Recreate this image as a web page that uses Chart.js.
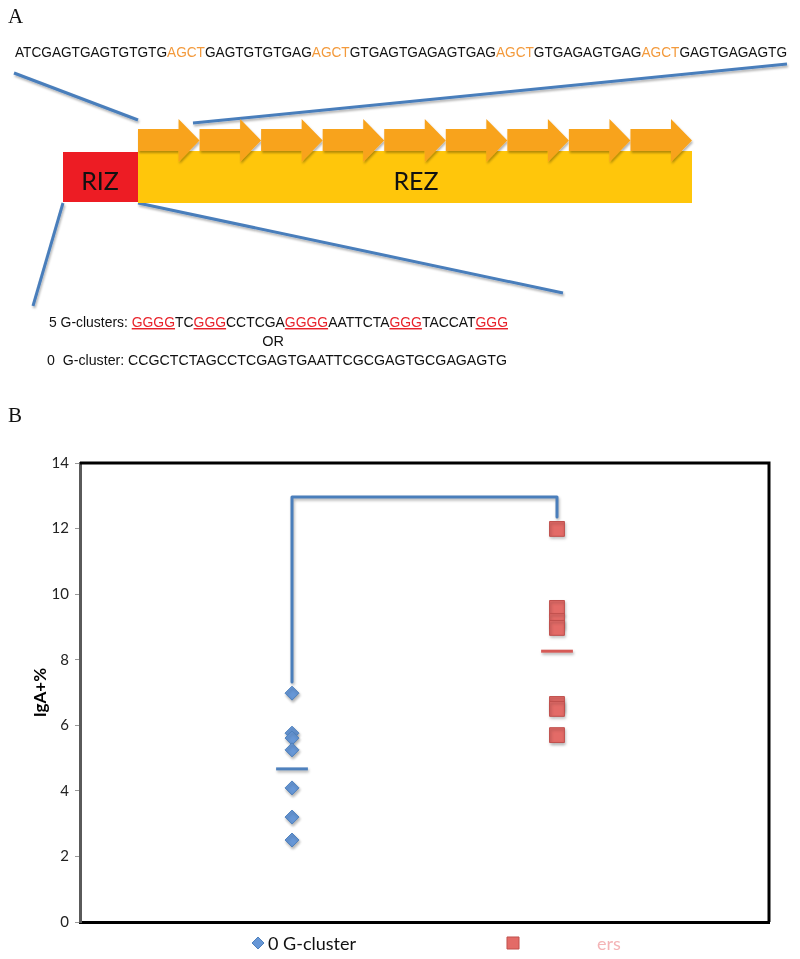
<!DOCTYPE html>
<html>
<head>
<meta charset="utf-8">
<script src="https://cdn.jsdelivr.net/npm/chart.js@4.4.1/dist/chart.umd.min.js"></script>
<style>
  html, body { margin: 0; padding: 0; background: #fff; }
  #contenedor { position: relative; width: 800px; height: 959px; }
  #graficoIgA { position: absolute; left: 0; top: 0; }
  #panelA { position: absolute; left: 0; top: 0; }
  .seq { font-family: "Liberation Sans", Arial, sans-serif; font-size: 14.5px; fill: #111; }
  .zona { font-family: Lato, "Open Sans", sans-serif; font-size: 25px; fill: #111; }
</style>
</head>
<body>
<div id="contenedor">
  <canvas id="graficoIgA" width="800" height="959"></canvas>

  <svg id="panelA" width="800" height="440" xmlns="http://www.w3.org/2000/svg">
    <defs>
      <filter id="sombra" x="-20%" y="-20%" width="140%" height="160%">
        <feDropShadow dx="1" dy="2" stdDeviation="1" flood-color="#000" flood-opacity="0.3"/>
      </filter>
    </defs>

    <text x="8" y="23" font-family="Liberation Serif, serif" font-size="21" fill="#111">A</text>

    <text class="seq" x="15" y="57" textLength="772" lengthAdjust="spacingAndGlyphs">ATCGAGTGAGTGTGTG<tspan fill="#f39a3c">AGCT</tspan>GAGTGTGTGAG<tspan fill="#f39a3c">AGCT</tspan>GTGAGTGAGAGTGAG<tspan fill="#f39a3c">AGCT</tspan>GTGAGAGTGAG<tspan fill="#f39a3c">AGCT</tspan>GAGTGAGAGTG</text>

    <!-- lineas azules de zoom -->
    <g stroke="#4a7ebb" stroke-width="3" filter="url(#sombra)">
      <line x1="14" y1="73" x2="138" y2="120"/>
      <line x1="193" y1="123" x2="787" y2="64"/>
      <line x1="138" y1="203" x2="563" y2="293"/>
      <line x1="63" y1="203" x2="33" y2="306"/>
    </g>

    <rect x="138" y="151" width="554" height="52" fill="#ffc60b"/>
    <rect x="63" y="152" width="75" height="50" fill="#ed1c24"/>
    <g id="flechas" fill="#f8a31f" filter="url(#sombra)"></g>

    <text class="zona" x="100" y="190" text-anchor="middle">RIZ</text>
    <text class="zona" x="416" y="190" text-anchor="middle">REZ</text>

    <text class="seq" x="49" y="327" textLength="459" lengthAdjust="spacingAndGlyphs">5 G-clusters: <tspan fill="#e8232b" text-decoration="underline">GGGG</tspan>TC<tspan fill="#e8232b" text-decoration="underline">GGG</tspan>CCTCGA<tspan fill="#e8232b" text-decoration="underline">GGGG</tspan>AATTCTA<tspan fill="#e8232b" text-decoration="underline">GGG</tspan>TACCAT<tspan fill="#e8232b" text-decoration="underline">GGG</tspan></text>
    <text class="seq" x="273" y="346" text-anchor="middle">OR</text>
    <text class="seq" x="47" y="365" textLength="460" lengthAdjust="spacingAndGlyphs">0&#160; G-cluster: CCGCTCTAGCCTCGAGTGAATTCGCGAGTGCGAGAGTG</text>

    <text x="8" y="422" font-family="Liberation Serif, serif" font-size="21" fill="#111">B</text>
  </svg>
</div>

<script>
// datos (IgA+ %)
const categoriasX = [1, 2];
const ceroCluster = [6.98, 5.76, 5.61, 5.25, 4.09, 3.20, 2.50];
const cincoClusters = [11.99, 9.58, 9.18, 8.97, 6.65, 6.50, 5.70];
const medias = [4.67, 8.26];
// corchete: base izquierda, altura, base derecha
const corcheteY = [7.32, 12.96, 12.35];
const rangoY = [0, 14];
const pasoY = 2;
const etiquetasLeyenda = ['0 G-cluster', 'ers'];

// flechas naranjas del REZ
const svgNS = 'http://www.w3.org/2000/svg';
const grupoFlechas = document.getElementById('flechas');
const numFlechas = 9;
const inicioFlechas = 138, finFlechas = 692;
const paso = (finFlechas - inicioFlechas) / numFlechas;
for (let i = 0; i < numFlechas; i++) {
  const a = inicioFlechas + i * paso;
  const b = a + paso - 21;
  const c = a + paso;
  const p = document.createElementNS(svgNS, 'polygon');
  p.setAttribute('points', `${a},129 ${b},129 ${b},119 ${c},140.5 ${b},162 ${b},151 ${a},151`);
  grupoFlechas.appendChild(p);
}

const azul = '#4f81bd';
const rojo = '#c0504d';

// marco superior y derecho del area
const marco = {
  id: 'marco',
  afterDraw(chart) {
    const ctx = chart.ctx;
    const a = chart.chartArea;
    ctx.save();
    ctx.strokeStyle = '#000';
    ctx.lineWidth = 3;
    ctx.beginPath();
    ctx.moveTo(a.left, a.top);
    ctx.lineTo(a.right, a.top);
    ctx.lineTo(a.right, a.bottom);
    ctx.stroke();
    ctx.restore();
  }
};

// sombra suave como en excel
const sombra = {
  id: 'sombra',
  beforeDatasetsDraw(chart) {
    const ctx = chart.ctx;
    ctx.save();
    ctx.shadowColor = 'rgba(0,0,0,0.3)';
    ctx.shadowBlur = 3;
    ctx.shadowOffsetX = 1;
    ctx.shadowOffsetY = 2;
  },
  afterDatasetsDraw(chart) {
    chart.ctx.restore();
  }
};

const leyenda = {
  id: 'leyendaManual',
  afterDraw(chart) {
    const ctx = chart.ctx;
    ctx.save();
    ctx.fillStyle = '#6797d6';
    ctx.strokeStyle = azul;
    Chart.helpers.drawPoint(ctx, { pointStyle: 'rectRot', radius: 6, borderWidth: 1, rotation: 0 }, 258, 943);
    ctx.fillStyle = '#e36b67';
    ctx.strokeStyle = rojo;
    Chart.helpers.drawPoint(ctx, { pointStyle: 'rect', radius: 8.5, borderWidth: 1, rotation: 0 }, 513, 943);
    ctx.font = '18px Lato, "Open Sans", sans-serif';
    ctx.textBaseline = 'middle';
    ctx.fillStyle = '#111';
    ctx.fillText(etiquetasLeyenda[0], 268, 944);
    ctx.fillStyle = '#f4b4b6';
    ctx.fillText(etiquetasLeyenda[1], 597, 944);
    ctx.restore();
  }
};

const ctx = document.getElementById('graficoIgA').getContext('2d');
const chart = new Chart(ctx, {
  type: 'scatter',
  data: {
    datasets: [
      {
        label: '0 G-cluster',
        data: ceroCluster.map(v => ({ x: categoriasX[0], y: v })),
        pointStyle: 'rectRot',
        pointRadius: 7,
        backgroundColor: '#6797d6',
        borderColor: azul,
        borderWidth: 1
      },
      {
        label: '5 G-clusters',
        data: cincoClusters.map(v => ({ x: categoriasX[1], y: v })),
        pointStyle: 'rect',
        pointRadius: 10.5,
        backgroundColor: '#e36b67',
        borderColor: rojo,
        borderWidth: 1
      },
      {
        label: 'media 0',
        data: [{ x: categoriasX[0] - 0.06, y: medias[0] }, { x: categoriasX[0] + 0.06, y: medias[0] }],
        showLine: true,
        pointRadius: 0,
        borderColor: azul,
        borderWidth: 3
      },
      {
        label: 'media 5',
        data: [{ x: categoriasX[1] - 0.06, y: medias[1] }, { x: categoriasX[1] + 0.06, y: medias[1] }],
        showLine: true,
        pointRadius: 0,
        borderColor: '#d65a56',
        borderWidth: 3
      },
      {
        label: 'corchete',
        data: [
          { x: categoriasX[0], y: corcheteY[0] },
          { x: categoriasX[0], y: corcheteY[1] },
          { x: categoriasX[1], y: corcheteY[1] },
          { x: categoriasX[1], y: corcheteY[2] }
        ],
        showLine: true,
        pointRadius: 0,
        borderColor: '#4a7ebb',
        borderWidth: 3,
        borderJoinStyle: 'round',
        borderCapStyle: 'round'
      }
    ]
  },
  options: {
    responsive: false,
    animation: false,
    layout: { padding: { top: 463, right: 31, bottom: 37, left: 0 } },
    plugins: {
      legend: { display: false },
      tooltip: { enabled: false }
    },
    scales: {
      x: {
        type: 'linear',
        min: 0.2,
        max: 2.8,
        ticks: { display: false },
        grid: { display: false },
        border: { display: true, color: '#000', width: 3 },
        afterFit(scale) { scale.height = 0; }
      },
      y: {
        min: rangoY[0],
        max: rangoY[1],
        ticks: {
          stepSize: pasoY,
          padding: 6,
          color: '#222',
          font: { family: 'Lato, "Open Sans", sans-serif', size: 15 }
        },
        grid: { drawOnChartArea: false, drawTicks: true, tickLength: 5, tickColor: '#999', tickWidth: 1 },
        border: { display: true, color: '#5a5a5a', width: 3 },
        title: {
          display: true,
          text: 'IgA+%',
          color: '#000',
          font: { family: 'Lato, "Open Sans", sans-serif', size: 17, weight: 'bold' },
          padding: { top: 30, bottom: 0 }
        },
        afterFit(scale) { scale.width = 80; }
      }
    }
  },
  plugins: [sombra, marco, leyenda]
});
</script>
</body>
</html>
